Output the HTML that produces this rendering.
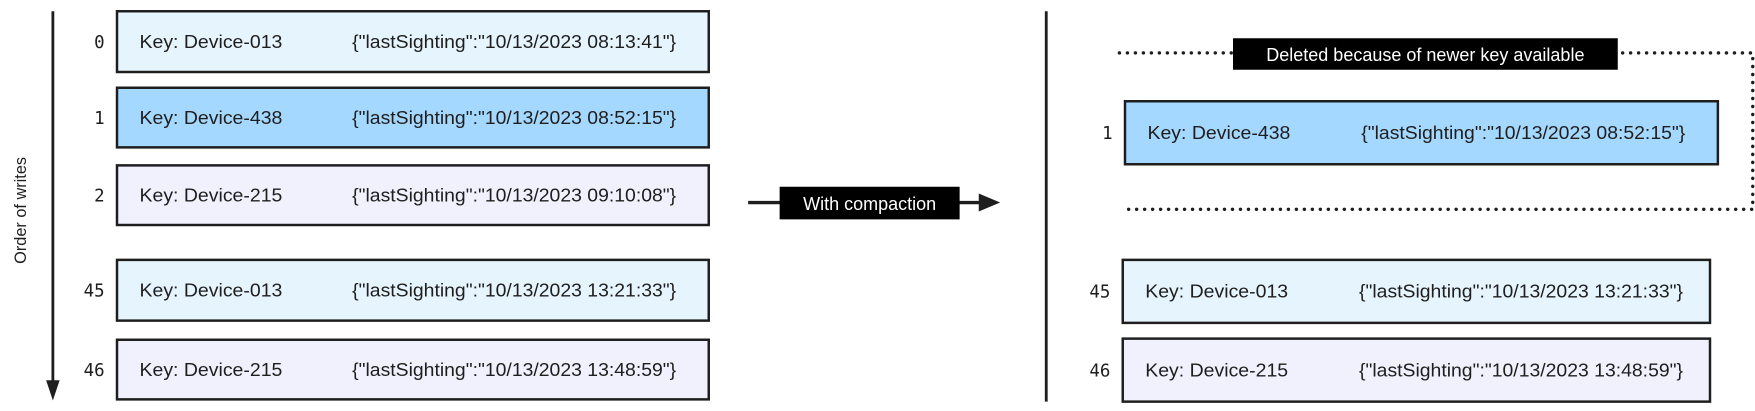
<!DOCTYPE html>
<html><head><meta charset="utf-8"><style>
html,body{margin:0;padding:0;background:#fff;}
svg{display:block;}
text{font-family:"Liberation Sans",Arial,sans-serif;}
.num{font-family:"DejaVu Sans Mono","Liberation Mono",monospace;font-size:15.5px;fill:#1e1e1e;}
</style></head><body>
<svg id="chart" width="1755" height="411" viewBox="0 0 1560 365.33" preserveAspectRatio="none" xmlns="http://www.w3.org/2000/svg">
  <line x1="47" y1="10" x2="47" y2="342" stroke="#1e1e1e" stroke-width="2.5"/>
  <polygon points="41,338 53,338 47,356" fill="#1e1e1e"/>
  <text x="0" y="0" transform="translate(23,187) rotate(-90)" text-anchor="middle" font-size="14.5" fill="#1e1e1e">Order of writes</text>
  <line x1="665" y1="180" x2="872" y2="180" stroke="#1e1e1e" stroke-width="3"/>
  <polygon points="870,172 889,180 870,188" fill="#1e1e1e"/>
  <rect x="693" y="166" width="160" height="29" fill="#000"/>
  <text x="773" y="186.5" text-anchor="middle" font-size="16" fill="#fff">With compaction</text>
  <line x1="930" y1="10" x2="930" y2="357" stroke="#1e1e1e" stroke-width="2.5"/>
  <polyline points="995,47 1558,47 1558,186 1003,186" fill="none" stroke="#1e1e1e" stroke-width="3" stroke-dasharray="0.1 7" stroke-linecap="round"/>
  <rect x="1096" y="34" width="342" height="28" fill="#000"/>
  <text x="1267" y="54" text-anchor="middle" font-size="16" fill="#fff">Deleted because of newer key available</text>
  <g id="rows"></g>
</svg>
<script>
const NS='http://www.w3.org/2000/svg';
const offsets=['0','1','2','45','46','1','45','46'];
const keys=['Device-013','Device-438','Device-215','Device-013','Device-215','Device-438','Device-013','Device-215'];
const sightings=['10/13/2023 08:13:41','10/13/2023 08:52:15','10/13/2023 09:10:08','10/13/2023 13:21:33','10/13/2023 13:48:59','10/13/2023 08:52:15','10/13/2023 13:21:33','10/13/2023 13:48:59'];
const sides=['before','before','before','before','before','after','after','after'];
const colorFor={'Device-013':'#e6f4fd','Device-438':'#a5d8ff','Device-215':'#f1f0fd'};
const boxes=[[104,10,526,54],[104,78,526,53],[104,147,526,53],[104,231,526,54],[104,302,526,53],[1000,90,527,56],[998,231,522,56],[998,301,522,56]];
const g=document.getElementById('rows');
function mk(tag,attrs){const e=document.createElementNS(NS,tag);for(const k in attrs)e.setAttribute(k,attrs[k]);return e;}
offsets.forEach((off,i)=>{
  const [x,y,w,h]=boxes[i];
  const grp=mk('g',{});
  
  
  const r=mk('rect',{x:x,y:y,width:w,height:h,fill:colorFor[keys[i]],stroke:'#1e1e1e','stroke-width':2.2});
  
  
  grp.appendChild(r);
  const cy=y+h/2+5.5;
  const n=mk('text',{x:x-11,y:cy,'text-anchor':'end',class:'num'});
  n.textContent=off;
  
  
  grp.appendChild(n);
  const k=mk('text',{x:x+20,y:cy,'font-size':16,fill:'#1e1e1e',textLength:127,lengthAdjust:'spacingAndGlyphs'});
  k.textContent='Key: '+keys[i];
  
  
  grp.appendChild(k);
  const j=mk('text',{x:x+(sides[i]==='before'?209:210),y:cy,'font-size':16,fill:'#1e1e1e',textLength:288,lengthAdjust:'spacingAndGlyphs'});
  j.textContent='{"lastSighting":"'+sightings[i]+'"}';
  
  
  grp.appendChild(j);
  g.appendChild(grp);
});
</script>
</body></html>
